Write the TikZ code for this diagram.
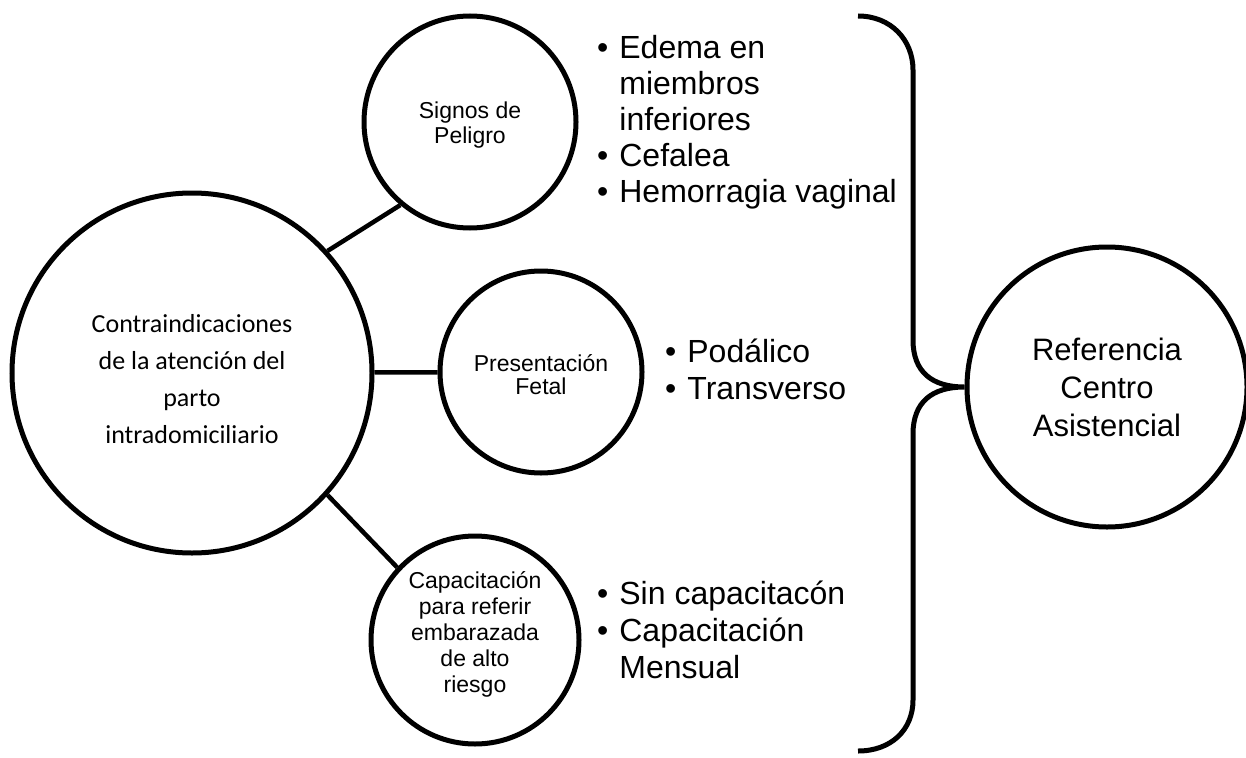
\documentclass[tikz,border=0pt]{standalone}
\usepackage{fontspec}
\setmainfont{Liberation Sans}
\newfontfamily\calfont{Carlito}
\newcommand{\bul}{\textbullet}
\begin{document}
\begin{tikzpicture}[x=1pt,y=-1pt,
  circ/.style={draw=black,line width=5pt,circle,inner sep=0pt},
  conn/.style={draw=black,line width=4.5pt},
  brk/.style={draw=black,line width=5pt},
  ctxt/.style={align=center,inner sep=0pt},
  listtxt/.style={font=\fontsize{32}{36}\selectfont,inner sep=0pt,anchor=base west}
]
\useasboundingbox (0,0) rectangle (1246,757);
% circles
\node[circ,minimum size=360pt] (big) at (192,373) {};
\node[circ,minimum size=212pt] (sig) at (470,122) {};
\node[circ,minimum size=202pt] (pres) at (541,372) {};
\node[circ,minimum size=208pt] (cap) at (475,640) {};
\node[circ,minimum size=280pt] (ref) at (1107,387) {};
% circle texts (yshift positive = up on the page)
\node[ctxt,font=\calfont\fontsize{26}{37}\selectfont] (bigtxt) at ([yshift=-6pt]big)
  {Contraindicaciones\\de la atención del\\parto\\intradomiciliario};
\node[ctxt,font=\fontsize{23}{25}\selectfont] (sigtxt) at ([yshift=-3pt]sig) {Signos de\\Peligro};
\node[ctxt,font=\fontsize{23}{23}\selectfont] (prestxt) at ([yshift=-3pt]pres) {Presentación\\Fetal};
\node[ctxt,font=\fontsize{23}{26}\selectfont] (captxt) at ([yshift=6pt]cap)
  {Capacitación\\para referir\\embarazada\\de alto\\riesgo};
\node[ctxt,font=\fontsize{31}{38}\selectfont] (reftxt) at (ref) {Referencia\\Centro\\Asistencial};
% connectors
\draw[conn] (big.42) -- (sig.230);
\draw[conn] (big) -- (pres);
\draw[conn] (big.-42) -- (cap.137);
% lists
\node[listtxt] (l1) at (597,58.5) {\begin{tabular}[t]{@{}l@{\hspace{11pt}}l@{}}
\bul & Edema en\\ & miembros\\ & inferiores\\ \bul & Cefalea\\ \bul & Hemorragia vaginal\end{tabular}};
\node[listtxt] (l2) at (665,362) {\fontsize{32}{37}\selectfont\begin{tabular}[t]{@{}l@{\hspace{11pt}}l@{}}
\bul & Podálico\\ \bul & Transverso\end{tabular}};
\node[listtxt] (l3) at (597,604) {\fontsize{32}{37}\selectfont\begin{tabular}[t]{@{}l@{\hspace{11pt}}l@{}}
\bul & Sin capacitacón\\ \bul & Capacitación\\ & Mensual\end{tabular}};
% bracket
\coordinate (btop) at (858,16);
\coordinate (bbot) at (858,751);
\draw[brk] (btop) .. controls (891,16) and (913,40) .. (913,70)
  -- (913,340) .. controls (913,372) and (932,387) .. (ref.west)
  .. controls (932,387) and (913,402) .. (913,434)
  -- (913,700) .. controls (913,730) and (891,751) .. (bbot);
\end{tikzpicture}
\end{document}
